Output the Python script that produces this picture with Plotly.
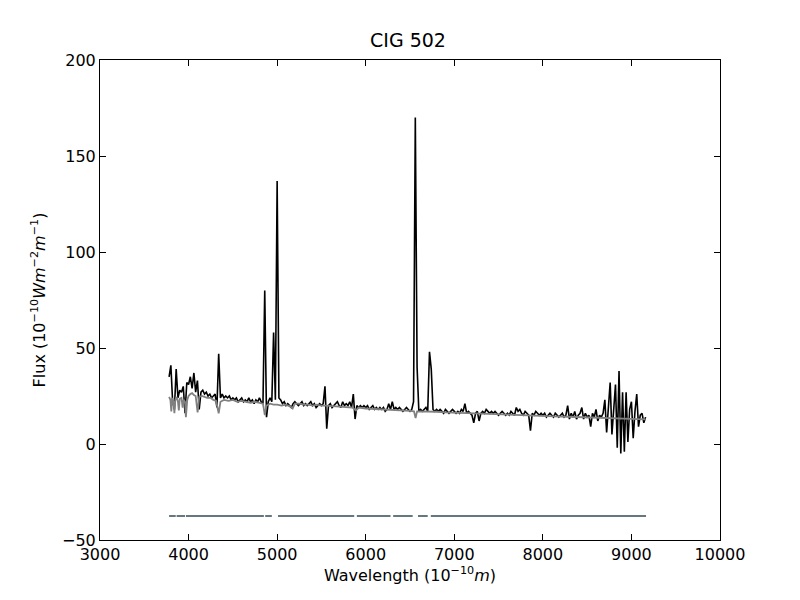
import numpy as np
import plotly.graph_objects as go

# observed spectrum, 20 A sampling from 3780 A
wave_start = 3780
wave_step = 20
obs_flux = [
    35, 41, 22, 18, 39, 24, 28, 27, 30, 16,
    32, 31, 35, 29, 37, 27, 33, 18, 27, 28,
    26, 27, 25, 26, 24, 25, 26, 19, 47, 24,
    26, 24, 25, 24, 25, 23, 24, 23, 24, 22,
    23, 24, 22, 23, 22, 24, 22, 23, 21, 23,
    22, 24, 22, 21, 80, 14, 22, 24, 22, 58,
    23, 137, 24, 23, 21, 22, 20, 21, 20, 19,
    21, 22, 21, 20, 21, 22, 20, 21, 20, 21,
    22, 20, 21, 19, 20, 21, 20, 21, 30, 8,
    20, 21, 19, 20, 21, 22, 20, 19, 22, 20,
    21, 20, 22, 19, 26, 13, 20, 19, 20, 19,
    20, 19, 20, 18, 19, 20, 18, 19, 18, 19,
    18, 19, 17, 18, 21, 18, 22, 18, 19, 18,
    19, 18, 17, 18, 19, 18, 17, 18, 22, 170,
    40, 17, 18, 17, 18, 19, 17, 48, 39, 18,
    17, 18, 17, 18, 17, 16, 18, 17, 16, 17,
    18, 17, 16, 17, 16, 18, 17, 21, 16, 17,
    16, 15, 11, 16, 17, 12, 16, 17, 16, 18,
    17, 16, 17, 16, 17, 16, 15, 16, 17, 16,
    15, 16, 15, 17, 16, 15, 19, 17, 18, 16,
    15, 17, 16, 15, 7, 16, 15, 17, 16, 15,
    16, 15, 16, 14, 15, 16, 15, 14, 16, 15,
    14, 15, 16, 14, 15, 20, 13, 16, 14, 17,
    13, 15, 16, 19, 13, 16, 14, 15, 9, 16,
    14, 18, 12, 15, 14, 16, 23, 6, 17, 32,
    5, 21, 31, -2, 38, -5, 27, -4, 27, 1,
    18, 22, 3, 17, 26, 9, 15, 16, 11, 14,
]
obs_wave = wave_start + wave_step * np.arange(len(obs_flux))

# model fit (grey)
model_wave = [3780, 3795, 3805, 3815, 3830, 3840, 3850, 3865, 3880, 3890,
              3900, 3920, 3933, 3945, 3960, 3970, 3985, 4000, 4020, 4040,
              4060, 4080, 4102, 4120, 4150, 4180, 4210, 4250, 4280, 4310,
              4340, 4360, 4400, 4450, 4500, 4550, 4600, 4650, 4700, 4750,
              4800, 4840, 4861, 4880, 4920, 4960, 5000, 5050, 5100, 5150,
              5175, 5200, 5250, 5300, 5350, 5400, 5450, 5500, 5550, 5600,
              5650, 5700, 5750, 5800, 5850, 5890, 5920, 6000, 6100, 6200,
              6300, 6400, 6500, 6545, 6563, 6580, 6650, 6700, 6800, 6900,
              7000, 7100, 7200, 7300, 7400, 7500, 7600, 7700, 7800, 7900,
              8000, 8100, 8200, 8300, 8400, 8500, 8600, 8700, 8800, 8900,
              9000, 9100, 9160]
model_flux = [24.5, 23, 17, 24, 22, 16, 23, 24.5, 22, 17.5,
              23.5, 24, 19, 23, 22, 14, 23, 25, 26, 26.5,
              25.5, 25, 16.5, 24.5, 25, 24.5, 24, 24, 23, 22.5,
              16, 22, 23, 22.5, 23, 22, 22.5, 22, 21.5, 22,
              21.5, 21, 15, 20, 21, 20.5, 20.5, 20, 20.5, 19.5,
              18.5, 21, 21, 20.5, 20.5, 20, 20.5, 20, 20, 19.8,
              19.8, 19.5, 19.5, 19.3, 19, 17.5, 19, 18.5, 18.3, 18,
              17.8, 17.5, 17.3, 17, 13.5, 17, 17, 16.8, 16.8, 16.5,
              16.3, 16.2, 16, 15.8, 15.7, 15.5, 15.3, 15.2, 15, 14.8,
              14.7, 14.5, 14.3, 14.2, 14, 13.8, 13.6, 13.5, 13.4, 13.3,
              13.1, 12.9, 12.8]

# fitted wavelength windows (mask bar)
mask_start = [3780, 3865, 3970, 4865, 5010, 5900, 6310, 6590, 6735]
mask_end = [3855, 3960, 4850, 4940, 5870, 6280, 6530, 6700, 9165]
mask_level = -37.5

mx, my = [], []
for a, b in zip(mask_start, mask_end):
    mx += [a, b, None]
    my += [mask_level, mask_level, None]

fig = go.Figure()
fig.add_trace(go.Scatter(x=obs_wave, y=obs_flux, mode='lines',
                         line=dict(color='black', width=1.6)))
fig.add_trace(go.Scatter(x=model_wave, y=model_flux, mode='lines',
                         line=dict(color='#808080', width=1.8)))
fig.add_trace(go.Scatter(x=mx, y=my, mode='lines',
                         line=dict(color='#667780', width=2)))

axis = dict(showline=True, linecolor='black', linewidth=1, mirror='allticks',
            ticks='inside', ticklen=6, tickcolor='black', showgrid=False,
            zeroline=False, tickfont=dict(size=16, color='black'))
fig.update_xaxes(range=[3000, 10000], dtick=1000, tick0=3000, tickformat='d',
                 title=dict(text='Wavelength (10<sup>−10</sup><i>m</i>)',
                            font=dict(size=16, color='black'), standoff=4),
                 **axis)
fig.update_yaxes(range=[-50, 200], dtick=50, tick0=-50, tickformat='d',
                 title=dict(text='Flux (10<sup>−10</sup><i>Wm</i><sup>−2</sup><i>m</i><sup>−1</sup>)',
                            font=dict(size=16, color='black'), standoff=12),
                 **axis)
fig.update_layout(width=800, height=600, showlegend=False,
                  paper_bgcolor='white', plot_bgcolor='white',
                  font=dict(family='DejaVu Sans', color='black'),
                  title=dict(text='CIG 502', x=0.5, xanchor='center', y=0.935,
                             yanchor='bottom', font=dict(size=19, color='black')),
                  margin=dict(l=92, r=88, t=52, b=68))
fig.write_html("out.html")
